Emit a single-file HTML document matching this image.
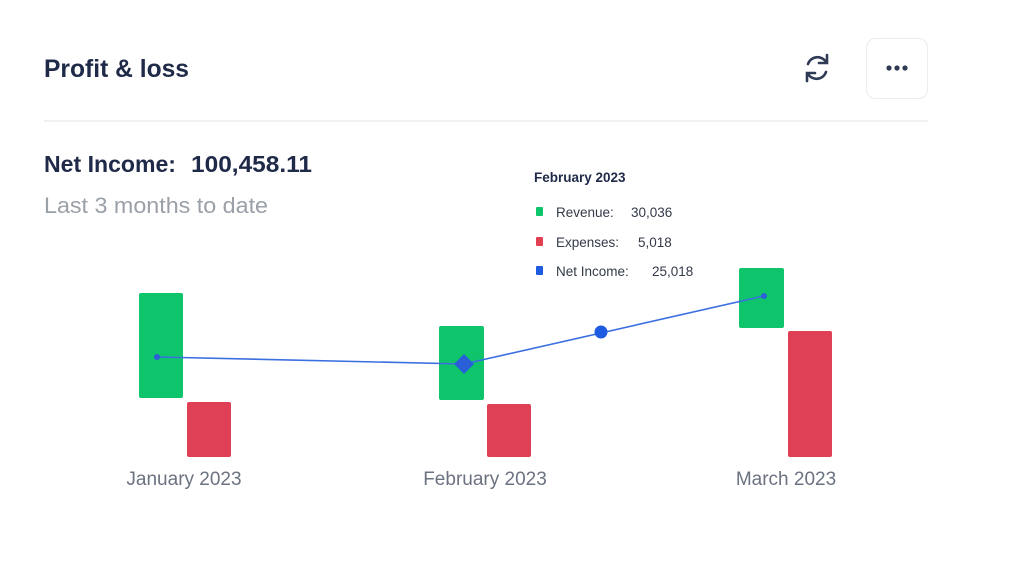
<!DOCTYPE html>
<html><head><meta charset="utf-8"><style>
body{margin:0;background:#fff;width:1023px;height:575px;overflow:hidden}
svg{display:block;font-family:"Liberation Sans",sans-serif}
</style></head><body>
<svg width="1023" height="575" viewBox="0 0 1023 575">
<text x="44" y="77" font-size="25" font-weight="bold" fill="#1f2a48" textLength="145" lengthAdjust="spacingAndGlyphs">Profit &amp; loss</text>
<g fill="none" stroke="#2f3a55" stroke-width="2.6" stroke-linecap="round">
<path d="M808 64 A10 10 0 0 1 826 62"/><path d="M826 72 A10 10 0 0 1 808 74"/>
<path d="M827 55 L827 63 L819 63"/><path d="M807 81 L807 73 L815 73"/>
</g>
<rect x="866.5" y="38.5" width="61" height="60" rx="9" fill="#fff" stroke="#ececf0"/>
<circle cx="889" cy="68" r="2.6" fill="#2f3a55"/><circle cx="897" cy="68" r="2.6" fill="#2f3a55"/><circle cx="905" cy="68" r="2.6" fill="#2f3a55"/>
<line x1="44" y1="121" x2="928" y2="121" stroke="#ececef" stroke-width="1.5"/>
<text x="44" y="172" font-size="23" font-weight="bold" fill="#1f2a48" textLength="132" lengthAdjust="spacingAndGlyphs">Net Income:</text>
<text x="191" y="172" font-size="23" font-weight="bold" fill="#1f2a48" textLength="121" lengthAdjust="spacingAndGlyphs">100,458.11</text>
<text x="44" y="213" font-size="22" fill="#9aa0a8" textLength="224" lengthAdjust="spacingAndGlyphs">Last 3 months to date</text>
<text x="534" y="182" font-size="13.5" font-weight="bold" fill="#1f2a48">February 2023</text>
<rect x="536" y="207" width="7" height="9" rx="1" fill="#0fc56c"/>
<text x="556" y="217" font-size="13.5" fill="#333a48">Revenue:<tspan x="631">30,036</tspan></text>
<rect x="536" y="237" width="7" height="9" rx="1" fill="#e0404f"/>
<text x="556" y="247" font-size="13.5" fill="#333a48">Expenses:<tspan x="638">5,018</tspan></text>
<rect x="536" y="266" width="7" height="9" rx="1" fill="#1d5be0"/>
<text x="556" y="276" font-size="13.5" fill="#333a48">Net Income:<tspan x="652">25,018</tspan></text>
<g fill="#0fc56c">
<rect x="139" y="293" width="44" height="105" rx="2"/>
<rect x="439" y="326" width="45" height="74" rx="2"/>
<rect x="739" y="268" width="45" height="60" rx="2"/>
</g>
<g fill="#e04055">
<rect x="187" y="402" width="44" height="55" rx="2"/>
<rect x="487" y="404" width="44" height="53" rx="2"/>
<rect x="788" y="331" width="44" height="126" rx="2"/>
</g>
<polyline points="157,357 464,364 764,296" fill="none" stroke="#3a6fe0" stroke-width="1.6"/>
<circle cx="157" cy="357" r="3" fill="#2a5fd8"/>
<circle cx="764" cy="296" r="3" fill="#2a5fd8"/>
<path d="M464 354 L474 364 L464 374 L454 364 Z" fill="#2a5fd8"/>
<circle cx="601" cy="332" r="6.5" fill="#1d5be0"/>
<g font-size="19" fill="#6b7280" text-anchor="middle">
<text x="184" y="485">January 2023</text>
<text x="485" y="485">February 2023</text>
<text x="786" y="485">March 2023</text>
</g>
</svg>
</body></html>
